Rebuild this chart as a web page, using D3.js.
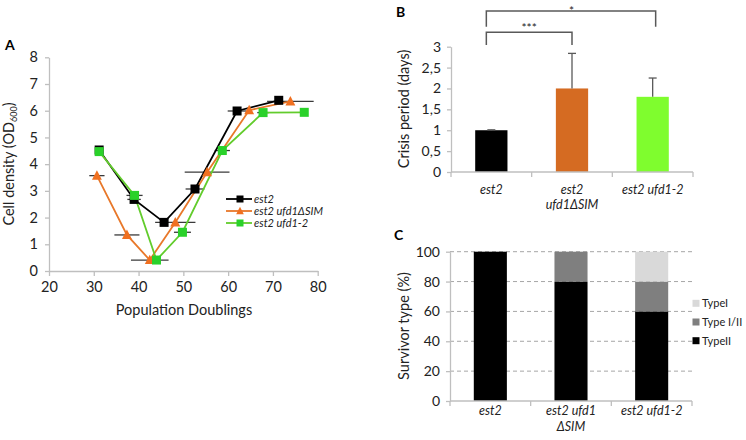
<!DOCTYPE html>
<html><head><meta charset="utf-8">
<script src="https://cdn.jsdelivr.net/npm/d3@7"></script>
<style>
body{margin:0;background:#fff;}
svg{font-family:Lato,"Open Sans",sans-serif;}
</style></head>
<body>
<svg id="c" width="746" height="440"></svg>
<script>
// ---------- Panel A data ----------
const aXTicks = [20,30,40,50,60,70,80];
const aYTicks = [0,1,2,3,4,5,6,7,8];
const est2X   = [31.2, 39.0, 45.7, 52.6, 62.0, 71.3];
const est2Y   = [4.53, 2.68, 1.82, 3.07, 5.99, 6.39];
const est2Err = [0.7, 1.5, 0, 2.1, 2.1, 0];
const simX    = [30.7, 37.4, 42.5, 48.2, 55.3, 64.7, 73.9];
const simY    = [3.57, 1.35, 0.41, 1.82, 3.70, 6.02, 6.35];
const simErr  = [1.7, 2.8, 4.2, 4.5, 5.0, 0, 5.2];
const u2X     = [31.2, 39.1, 44.0, 49.8, 58.7, 67.8, 77.0];
const u2Y     = [4.47, 2.83, 0.41, 1.45, 4.51, 5.93, 5.94];
const u2Err   = [0, 1.8, 0, 1.9, 1.7, 1.3, 0];
const seriesNames = ["est2", "est2 ufd1\u0394SIM", "est2 ufd1-2"];

// ---------- Panel B data ----------
const bCats = ["est2", "est2 ufd1\u0394SIM", "est2 ufd1-2"];
const bValues = [1.0, 2.0, 1.8];
const bErr = [0.01, 0.84, 0.45];
const bTicks = [0, 0.5, 1, 1.5, 2, 2.5, 3];
const bSig = [{from:0, to:1, label:"***"}, {from:0, to:2, label:"*"}];

// ---------- Panel C data ----------
const cCats = ["est2", "est2 ufd1\u0394SIM", "est2 ufd1-2"];
const typeII = [100, 80, 60];
const typeI_II = [0, 20, 20];
const typeI = [0, 0, 20];
const cTicks = [0, 20, 40, 60, 80, 100];
const cLegend = ["TypeI", "Type I/II", "TypeII"];

const svg = d3.select("#c");
const axisCol = "#bfbfbf";
const txtCol = "#222";

function styleAxis(g){
  g.selectAll(".domain").attr("stroke", axisCol).attr("stroke-width",1.3);
  g.selectAll(".tick line").attr("stroke", axisCol).attr("stroke-width",1.3);
  g.selectAll(".tick text").attr("fill", txtCol).style("font-family","Lato,'Open Sans',sans-serif");
}

// ================= Panel A =================
const xA = d3.scaleLinear().domain([20,80]).range([49,317.7]);
const yA = d3.scaleLinear().domain([0,8]).range([271,57.3]);
svg.append("g").attr("transform","translate(0,271)")
  .call(d3.axisBottom(xA).tickValues(aXTicks).tickSize(5).tickSizeOuter(0).tickPadding(6))
  .call(styleAxis).call(g=>g.selectAll("text").attr("font-size",14.5));
svg.append("g").attr("transform","translate(49,0)")
  .call(d3.axisLeft(yA).tickValues(aYTicks).tickSize(4).tickSizeOuter(0).tickPadding(7))
  .call(styleAxis).call(g=>g.selectAll("text").attr("font-size",14.5));
svg.append("text").attr("x",184).attr("y",315).attr("text-anchor","middle")
  .attr("font-size",14.5).attr("fill",txtCol).text("Population Doublings");
const yt = svg.append("text").attr("transform","translate(14,164) rotate(-90)")
  .attr("text-anchor","middle").attr("font-size",14.5).attr("fill",txtCol);
yt.append("tspan").text("Cell density (OD");
yt.append("tspan").attr("font-size",9).attr("dy",3).text("600");
yt.append("tspan").attr("dy",-3).text(")");
svg.append("text").attr("x",5).attr("y",50).attr("font-weight","bold").attr("font-size",14).text("A");

const series = [
  {x:est2X, y:est2Y, e:est2Err, col:"#000000", mcol:"#000000", shape:"sq"},
  {x:simX, y:simY, e:simErr, col:"#e8782a", mcol:"#f07020", shape:"tri"},
  {x:u2X, y:u2Y, e:u2Err, col:"#62cc2c", mcol:"#2ad12a", shape:"sq"}
];
const line = d3.line().x(d=>xA(d[0])).y(d=>yA(d[1]));
// error bars first
series.forEach(s=>{
  const pts = s.x.map((v,i)=>[v,s.y[i],s.e[i]]).filter(d=>d[2]>0);
  svg.append("g").selectAll("line").data(pts).join("line")
    .attr("x1",d=>xA(d[0]-d[2])).attr("x2",d=>xA(d[0]+d[2]))
    .attr("y1",d=>yA(d[1])).attr("y2",d=>yA(d[1]))
    .attr("stroke","#3a3a3a").attr("stroke-width",1.3);
});
function drawMarker(g, shape, cx, cy, col, size){
  if(shape==="sq"){
    g.append("rect").attr("x",cx-size/2).attr("y",cy-size/2).attr("width",size).attr("height",size).attr("fill",col);
  } else {
    const h=size;
    g.append("path").attr("d",`M${cx},${cy-h*0.6}L${cx+h*0.55},${cy+h*0.45}L${cx-h*0.55},${cy+h*0.45}Z`).attr("fill",col);
  }
}
series.forEach(s=>{
  const pts = s.x.map((v,i)=>[v,s.y[i]]);
  svg.append("path").datum(pts).attr("d",line).attr("fill","none").attr("stroke",s.col).attr("stroke-width",1.8);
});
series.forEach(s=>{
  const g = svg.append("g");
  s.x.forEach((v,i)=>drawMarker(g,s.shape,xA(v),yA(s.y[i]),s.mcol,9));
});
// legend A
series.forEach((s,i)=>{
  const ly = 199 + i*12;
  svg.append("line").attr("x1",226).attr("x2",252).attr("y1",ly).attr("y2",ly).attr("stroke",s.col).attr("stroke-width",1.8);
  drawMarker(svg,s.shape,240,ly,s.mcol,7);
  svg.append("text").attr("x",254).attr("y",ly+4).attr("font-size",11).attr("font-style","italic").attr("fill",txtCol).text(seriesNames[i]);
});

// ================= Panel B =================
const xB = d3.scaleBand().domain(bCats).range([451,693]).paddingInner(0.6).paddingOuter(0.3);
const yB = d3.scaleLinear().domain([0,3]).range([172,46.7]);
const bCols = ["#000000","#d56b22","#7ffd2e"];
svg.append("g").selectAll("rect").data(bCats).join("rect")
  .attr("x",d=>xB(d)).attr("width",xB.bandwidth())
  .attr("y",(d,i)=>yB(bValues[i])).attr("height",(d,i)=>yB(0)-yB(bValues[i]))
  .attr("fill",(d,i)=>bCols[i]);
// error bars
bCats.forEach((c,i)=>{
  const cx = xB(c)+xB.bandwidth()/2;
  svg.append("line").attr("x1",cx).attr("x2",cx).attr("y1",yB(bValues[i])).attr("y2",yB(bValues[i]+bErr[i])).attr("stroke","#595959").attr("stroke-width",1.3);
  svg.append("line").attr("x1",cx-4).attr("x2",cx+4).attr("y1",yB(bValues[i]+bErr[i])).attr("y2",yB(bValues[i]+bErr[i])).attr("stroke","#595959").attr("stroke-width",1.3);
});
// axes B
const bStep = xB.step();
const gxB = svg.append("g").attr("transform","translate(0,172)");
gxB.append("line").attr("x1",451).attr("x2",693).attr("stroke",axisCol).attr("stroke-width",1.3);
[0,1,2,3].forEach(k=>gxB.append("line").attr("x1",451+k*bStep).attr("x2",451+k*bStep).attr("y1",0).attr("y2",5).attr("stroke",axisCol).attr("stroke-width",1.3));
svg.append("g").attr("transform","translate(451,0)")
  .call(d3.axisLeft(yB).tickValues(bTicks).tickSize(4).tickSizeOuter(0).tickPadding(6)
    .tickFormat(d=>String(d).replace(".",",")))
  .call(styleAxis).call(g=>g.selectAll("text").attr("font-size",14));
// x labels B
bCats.forEach(c=>{
  const cx = xB(c)+xB.bandwidth()/2;
  const parts = c==="est2 ufd1\u0394SIM" ? ["est2","ufd1\u0394SIM"] : [c];
  parts.forEach((p,j)=>svg.append("text").attr("x",cx).attr("y",194+j*15).attr("text-anchor","middle")
    .attr("font-size",12.5).attr("font-style","italic").attr("fill",txtCol).text(p));
});
svg.append("text").attr("transform","translate(409,109) rotate(-90)").attr("text-anchor","middle")
  .attr("font-size",14.5).attr("fill",txtCol).text("Crisis period (days)");
svg.append("text").attr("x",396).attr("y",17).attr("font-weight","bold").attr("font-size",14).text("B");
// significance brackets
bSig.forEach((s,k)=>{
  const x1 = xB(bCats[s.from])+xB.bandwidth()/2-5;
  const x2 = xB(bCats[s.to])+xB.bandwidth()/2 + (k===1?3:0);
  const top = k===0 ? 32.3 : 11;
  const bot = k===0 ? 45 : 26.7;
  svg.append("path").attr("d",`M${x1},${bot}V${top}H${x2}V${bot}`)
    .attr("fill","none").attr("stroke","#595959").attr("stroke-width",1.5);
  svg.append("text").attr("x",k===0?(x1+x2)/2:x2-84).attr("y",k===0?31.5:14.5).attr("text-anchor","middle")
    .attr("font-size",12).attr("fill",txtCol).text(s.label);
});

// ================= Panel C =================
const xC = d3.scaleBand().domain(cCats).range([450,692]).paddingInner(0.59).paddingOuter(0.295);
const yC = d3.scaleLinear().domain([0,100]).range([401,251.7]);
// gridlines
svg.append("g").selectAll("line").data(cTicks.filter(d=>d>0)).join("line")
  .attr("x1",450).attr("x2",692).attr("y1",d=>yC(d)).attr("y2",d=>yC(d))
  .attr("stroke","#a6a6a6").attr("stroke-width",1).attr("stroke-dasharray","4,3");
const layers = [
  {vals:typeII, col:"#000000", name:"TypeII"},
  {vals:typeI_II, col:"#7f7f7f", name:"Type I/II"},
  {vals:typeI, col:"#d9d9d9", name:"TypeI"}
];
const stackBase = cCats.map(()=>0);
layers.forEach(L=>{
  cCats.forEach((c,i)=>{
    const v = L.vals[i];
    if(v>0){
      svg.append("rect").attr("x",xC(c)).attr("width",xC.bandwidth())
        .attr("y",yC(stackBase[i]+v)).attr("height",yC(stackBase[i])-yC(stackBase[i]+v))
        .attr("fill",L.col);
    }
    stackBase[i]+=v;
  });
});
const cStep = xC.step();
const gxC = svg.append("g").attr("transform","translate(0,401)");
gxC.append("line").attr("x1",450).attr("x2",692).attr("stroke",axisCol).attr("stroke-width",1.3);
[0,1,2,3].forEach(k=>gxC.append("line").attr("x1",450+k*cStep).attr("x2",450+k*cStep).attr("y1",0).attr("y2",5).attr("stroke",axisCol).attr("stroke-width",1.3));
svg.append("g").attr("transform","translate(450,0)")
  .call(d3.axisLeft(yC).tickValues(cTicks).tickSize(4).tickSizeOuter(0).tickPadding(6))
  .call(styleAxis).call(g=>g.selectAll("text").attr("font-size",14));
cCats.forEach(c=>{
  const cx = xC(c)+xC.bandwidth()/2;
  const parts = c==="est2 ufd1\u0394SIM" ? ["est2 ufd1","\u0394SIM"] : [c];
  parts.forEach((p,j)=>svg.append("text").attr("x",cx).attr("y",415+j*16).attr("text-anchor","middle")
    .attr("font-size",12.5).attr("font-style","italic").attr("fill",txtCol).text(p));
});
svg.append("text").attr("transform","translate(409,326) rotate(-90)").attr("text-anchor","middle")
  .attr("font-size",14.5).attr("fill",txtCol).text("Survivor type (%)");
svg.append("text").attr("x",394).attr("y",240).attr("font-weight","bold").attr("font-size",14).text("C");
// legend C
const legCols = {"TypeI":"#d9d9d9","Type I/II":"#7f7f7f","TypeII":"#000000"};
cLegend.forEach((n,i)=>{
  const ly = 303.3 + i*18.7;
  svg.append("rect").attr("x",692.5).attr("y",ly-3.5).attr("width",7).attr("height",7).attr("fill",legCols[n]);
  svg.append("text").attr("x",702).attr("y",ly+4).attr("font-size",11).attr("fill",txtCol).text(n);
});
</script>
</body></html>
